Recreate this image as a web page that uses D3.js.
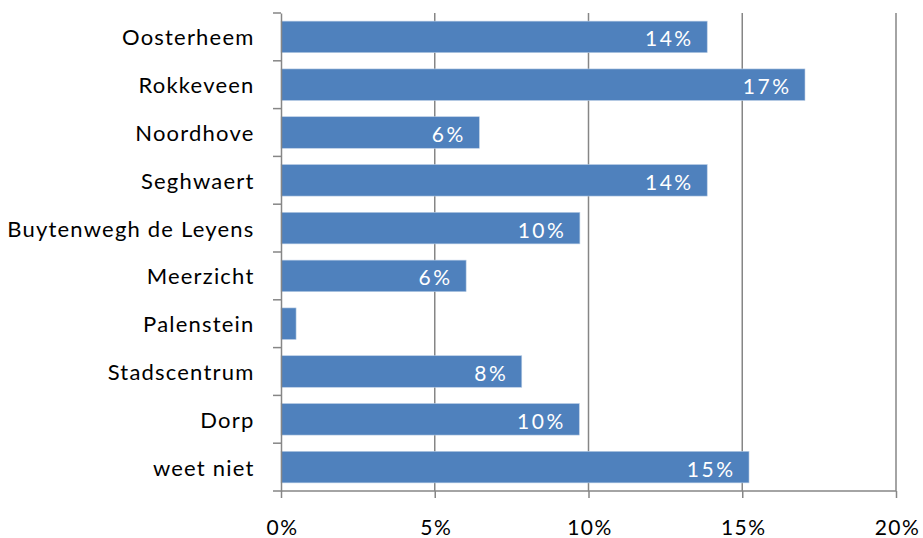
<!DOCTYPE html>
<html>
<head>
<meta charset="utf-8">
<script src="https://cdn.jsdelivr.net/npm/d3@7"></script>
<style>
  body { margin: 0; background: #fff; }
  svg { display: block; font-family: Lato, "Open Sans", sans-serif; }
</style>
</head>
<body>
<svg id="chart" width="923" height="538"></svg>
<script>
const categories = ["Oosterheem", "Rokkeveen", "Noordhove", "Seghwaert", "Buytenwegh de Leyens",
    "Meerzicht", "Palenstein", "Stadscentrum", "Dorp", "weet niet"];
const values = [13.86, 17.04, 6.45, 13.86, 9.72, 6.02, 0.49, 7.83, 9.70, 15.22];
const xTicks = [0, 5, 10, 15, 20];

(function(){
    const svg = d3.select("#chart");
    const plotLeft = 281, plotRight = 896, plotTop = 13, plotBottom = 491;
    const axisColor = "#868686";
    const font = "Lato, 'Open Sans', sans-serif";

    let x = d3.scaleLinear().domain([0, 20]).range([plotLeft, plotRight]);
    let y = d3.scaleBand().domain(categories).range([plotTop, plotBottom]).paddingInner(0.34).paddingOuter(0.17);

    //Vertical gridlines
    svg.append("g").selectAll("line")
        .data(xTicks.slice(1))
        .enter().append("line")
            .attr("x1", d=>x(d)).attr("x2", d=>x(d))
            .attr("y1", plotTop).attr("y2", plotBottom)
            .attr("stroke", axisColor).attr("stroke-width", 1.5);

    //Bars
    svg.append("g").selectAll("rect")
        .data(values)
        .enter().append("rect")
            .attr("x", x(0))
            .attr("y", (d,i)=>y(categories[i]))
            .attr("width", d=>x(d)-x(0))
            .attr("height", y.bandwidth())
            .attr("fill", "#4F81BD")
            .attr("stroke", "#B9CDE5").attr("stroke-width", 0.6);

    //Value labels inside bars
    svg.append("g").selectAll("text")
        .data(values.map((v,i)=>({v, c: categories[i]})).filter(d=>d.v >= 1))
        .enter().append("text")
            .attr("x", d=>x(d.v) - 13.5)
            .attr("y", d=>y(d.c) + y.bandwidth()/2)
            .attr("dy", "0.45em")
            .attr("text-anchor", "end")
            .attr("fill", "#fff")
            .style("font-size", "21px")
            .style("letter-spacing", "2.5px")
            .text(d=>Math.round(d.v) + "%");

    //Y axis
    let yAxis = svg.append("g")
        .attr("transform", `translate(${plotLeft},0)`)
        .call(d3.axisLeft(y).tickSize(0).tickPadding(26.5));
    yAxis.select(".domain").attr("stroke", axisColor).attr("stroke-width", 1.5);
    yAxis.selectAll("text").attr("fill", "#000").attr("dy", "0.39em").style("font-size", "22px")
        .style("font-family", font).style("letter-spacing", "1.2px");
    //category separators
    const step = (plotBottom - plotTop) / categories.length;
    svg.append("g").selectAll("line")
        .data(d3.range(categories.length + 1))
        .enter().append("line")
            .attr("x1", plotLeft - 8).attr("x2", plotLeft)
            .attr("y1", i=>plotTop + i * step)
            .attr("y2", i=>plotTop + i * step)
            .attr("stroke", axisColor).attr("stroke-width", 1.5);

    //X axis
    let xAxis = svg.append("g")
        .attr("transform", `translate(0,${plotBottom})`)
        .call(d3.axisBottom(x).tickValues(xTicks).tickSize(7).tickPadding(22.5).tickFormat(d=>d + "%"));
    xAxis.select(".domain").attr("stroke", axisColor).attr("stroke-width", 1.5).attr("d", `M${plotLeft},0H${plotRight}`);
    xAxis.selectAll("line").attr("stroke", axisColor).attr("stroke-width", 1.5);
    xAxis.selectAll("text").attr("fill", "#000").attr("dx", "1px").style("font-size", "21px")
        .style("font-family", font).style("letter-spacing", "1.5px");
})();
</script>
</body>
</html>
